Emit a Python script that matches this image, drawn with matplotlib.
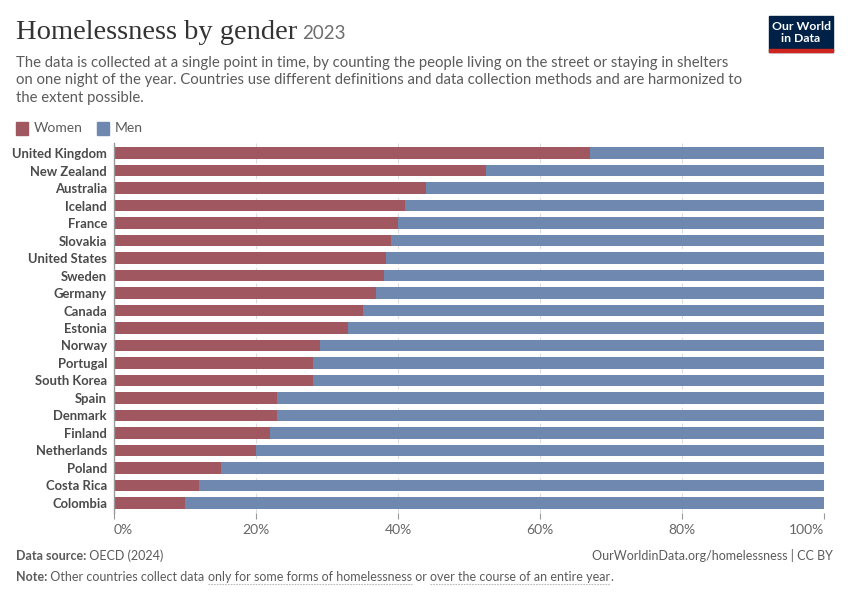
import numpy as np
import matplotlib.pyplot as plt
from matplotlib.patches import Rectangle

# -------------------------------------------------
# Datos
# -------------------------------------------------
countries = ["United Kingdom", "New Zealand", "Australia", "Iceland", "France",
             "Slovakia", "United States", "Sweden", "Germany", "Canada",
             "Estonia", "Norway", "Portugal", "South Korea", "Spain",
             "Denmark", "Finland", "Netherlands", "Poland", "Costa Rica",
             "Colombia"]
women = [67.0, 52.4, 44.0, 41.0, 40.0, 39.0, 38.3, 38.0, 36.9, 35.0,
         33.0, 29.0, 28.0, 28.0, 23.0, 23.0, 22.0, 20.0, 15.0, 12.0, 10.0]
men = [33.0, 47.6, 56.0, 59.0, 60.0, 61.0, 61.7, 62.0, 63.1, 65.0,
       67.0, 71.0, 72.0, 72.0, 77.0, 77.0, 78.0, 80.0, 85.0, 88.0, 90.0]
x_ticks = [0, 20, 40, 60, 80, 100]
x_labels = ["0%", "20%", "40%", "60%", "80%", "100%"]

C_WOMEN = "#a0575f"
C_MEN = "#6e88b0"
GRAY = "#5b5b5b"

plt.rcParams['font.family'] = ['Lato', 'DejaVu Sans']

fig = plt.figure(figsize=(8.5, 6), dpi=100)
W, H = 850, 600


def fx(px):
    return px / W


def fy(py):
    return 1 - py / H


ax = fig.add_axes([fx(114), fy(512.6), fx(824) - fx(114), fy(143.4) - fy(512.6)])

y = np.arange(len(countries))
ax.barh(y, women, height=0.68, color=C_WOMEN, label="Women", zorder=2)
ax.barh(y, men, left=women, height=0.68, color=C_MEN, label="Men", zorder=2)

ax.set_ylim(20.55, -0.55)
ax.set_xlim(0, 100)
ax.set_yticks(y)
ax.set_yticklabels(countries, fontsize=9.4, fontweight='bold', color="#4a4a4a")
ax.set_xticks(x_ticks)
ax.set_xticklabels(x_labels, fontsize=10, color="#666666")
tl = ax.get_xticklabels()
tl[0].set_ha('left')
tl[-1].set_ha('right')
ax.tick_params(axis='y', length=0, pad=5)
ax.tick_params(axis='x', length=4, color="#999999", pad=4)
for s in ["top", "right", "bottom"]:
    ax.spines[s].set_visible(False)
ax.spines["left"].set_color("#999999")
ax.spines["left"].set_linewidth(1)
ax.spines["left"].set_zorder(3)
for t in x_ticks[1:]:
    ax.axvline(t, color="#dddddd", linestyle=(0, (4, 3)), linewidth=0.8, zorder=1)

# -------------------------------------------------
# Textos de cabecera
# -------------------------------------------------
renderer = fig.canvas.get_renderer()


def put_seq(x_px, y_px, pieces, size, underline=()):
    # coloca fragmentos de texto uno detrás del otro
    xx = fx(x_px)
    for i, (txt, weight, col) in enumerate(pieces):
        t = fig.text(xx, fy(y_px), txt, fontsize=size, fontweight=weight,
                     color=col, va='baseline', ha='left')
        bb = t.get_window_extent(renderer=renderer)
        if i in underline:
            fig.add_artist(plt.Line2D([bb.x0 / W, bb.x1 / W],
                                      [fy(y_px + 3), fy(y_px + 3)],
                                      color="#bbbbbb", linewidth=0.8,
                                      linestyle=(0, (1.5, 1))))
        xx = bb.x1 / W
    return xx


put_seq(16, 39, [("Homelessness by gender", 'normal', "#333333")], 20.5)
fig.texts[-1].set_family(['Liberation Serif', 'DejaVu Serif'])
bb = fig.texts[-1].get_window_extent(renderer=renderer)
fig.text(bb.x1 / W + 0.006, fy(39), "2023", fontsize=13.5, color="#6e6e6e",
         va='baseline', ha='left')

subtitle = ("The data is collected at a single point in time, by counting the people living on the street or staying in shelters\n"
            "on one night of the year. Countries use different definitions and data collection methods and are harmonized to\n"
            "the extent possible.")
fig.text(fx(16), fy(56), subtitle, fontsize=10.7, color=GRAY, va='top',
         ha='left', linespacing=1.3)

# Leyenda
fig.add_artist(Rectangle((fx(16), fy(135)), fx(12), fy(122) - fy(135),
                         color=C_WOMEN, transform=fig.transFigure))
fig.text(fx(34), fy(128.5), "Women", fontsize=10, color=GRAY, va='center')
fig.add_artist(Rectangle((fx(97), fy(135)), fx(12), fy(122) - fy(135),
                         color=C_MEN, transform=fig.transFigure))
fig.text(fx(115), fy(128.5), "Men", fontsize=10, color=GRAY, va='center')

# Logo
fig.add_artist(Rectangle((fx(769), fy(52)), fx(64), fy(16) - fy(52),
                         color="#002147", transform=fig.transFigure))
fig.add_artist(Rectangle((fx(769), fy(52)), fx(64), fy(49) - fy(52),
                         color="#ce261e", transform=fig.transFigure))
fig.text(fx(801), fy(32.5), "Our World\nin Data", fontsize=8.8, color="white",
         ha='center', va='center', linespacing=1.0, fontweight='bold')

# -------------------------------------------------
# Pie
# -------------------------------------------------
put_seq(16, 560, [("Data source:", 'bold', GRAY), (" OECD (2024)", 'normal', GRAY)], 9)
fig.text(fx(833), fy(560), "OurWorldinData.org/homelessness | CC BY", fontsize=9,
         color=GRAY, ha='right', va='baseline')
put_seq(16, 581, [("Note:", 'bold', GRAY),
                  (" Other countries collect data ", 'normal', GRAY),
                  ("only for some forms of homelessness", 'normal', GRAY),
                  (" or ", 'normal', GRAY),
                  ("over the course of an entire year", 'normal', GRAY),
                  (".", 'normal', GRAY)], 9, underline=(2, 4))

fig.savefig("out.png", dpi=100)
